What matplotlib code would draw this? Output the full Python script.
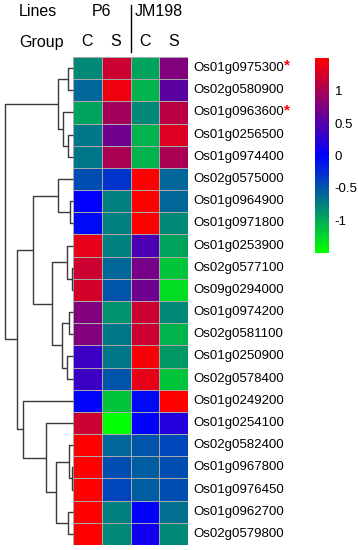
import numpy as np
import matplotlib
matplotlib.use('Agg')
import matplotlib.pyplot as plt
from matplotlib.colors import LinearSegmentedColormap

plt.rcParams['font.family'] = ['Liberation Sans', 'DejaVu Sans']

# ── data ──────────────────────────────────────────────
genes = ['Os01g0975300', 'Os02g0580900', 'Os01g0963600', 'Os01g0256500',
         'Os01g0974400', 'Os02g0575000', 'Os01g0964900', 'Os01g0971800',
         'Os01g0253900', 'Os02g0577100', 'Os09g0294000', 'Os01g0974200',
         'Os02g0581100', 'Os01g0250900', 'Os02g0578400', 'Os01g0249200',
         'Os01g0254100', 'Os02g0582400', 'Os01g0967800', 'Os01g0976450',
         'Os01g0962700', 'Os02g0579800']
starred = ['Os01g0975300', 'Os01g0963600']

lines = ['P6', 'JM198']
groups = ['C', 'S', 'C', 'S']

p6_c  = [-0.80, -0.60, -0.95, -0.70, -0.70, -0.45, 0.00, -0.05, 1.35, 1.20, 1.25,
         0.75, 0.75, 0.35, 0.35, -0.03, 1.20, 1.50, 1.50, 1.50, 1.50, 1.50]
p6_s  = [1.20, 1.40, 0.95, 0.65, 1.00, -0.30, -0.75, -0.75, -0.75, -0.60, -0.50,
         -0.85, -0.70, -0.70, -0.50, -1.15, -1.50, -0.60, -0.45, -0.40, -0.75, -0.80]
jm_c  = [-0.95, -1.05, -0.80, -1.05, -1.05, 1.50, 1.50, 1.50, 0.45, 0.70, 0.65,
         1.20, 1.20, 1.45, 1.35, -0.05, 0.00, -0.50, -0.55, -0.55, 0.00, 0.10]
jm_s  = [0.75, 0.55, 1.10, 1.30, 1.00, -0.60, -0.60, -0.80, -0.95, -1.15, -1.30,
         -0.80, -1.05, -0.90, -1.15, 1.50, 0.20, -0.40, -0.45, -0.45, -0.65, -0.80]

# row clustering: (child a, child b, height); ids >= 22 are earlier merges
merges = [(0, 1, 5), (3, 4, 5), (2, 23, 10), (22, 24, 15),
          (6, 7, 3), (5, 26, 15), (9, 10, 1), (8, 28, 6),
          (11, 12, 4), (13, 14, 6), (30, 31, 11), (29, 32, 21),
          (27, 33, 40), (18, 19, 1), (17, 35, 4), (20, 21, 5),
          (36, 37, 17), (16, 38, 27), (15, 39, 50), (34, 40, 56),
          (25, 41, 68)]

VMIN, VMAX = -1.5, 1.5
cbar_ticks = [1, 0.5, 0, -0.5, -1]

# ── figure ────────────────────────────────────────────
W, H = 358, 550
fig = plt.figure(figsize=(W / 100, H / 100), dpi=100)
fig.patch.set_facecolor('white')

def px_rect(x0, y0, x1, y1):
    return [x0 / W, 1 - y1 / H, (x1 - x0) / W, (y1 - y0) / H]

HX0, HX1, HY0, HY1 = 73, 188, 57, 545
ax = fig.add_axes(px_rect(HX0, HY0, HX1, HY1))
axd = fig.add_axes(px_rect(5, HY0, HX0, HY1))
axc = fig.add_axes(px_rect(315, 58, 329, 253))

cmap = LinearSegmentedColormap.from_list('gbr', ['#00ff00', '#0000ff', '#ff0000'])
mat = np.column_stack([p6_c, p6_s, jm_c, jm_s])
n = len(genes)
mesh = ax.pcolormesh(mat, cmap=cmap, vmin=VMIN, vmax=VMAX,
                     edgecolors='#a8a8a8', linewidth=0.6)
ax.set_xlim(0, 4)
ax.set_ylim(n, 0)
ax.set_xticks([]); ax.set_yticks([])
for s in ax.spines.values():
    s.set_visible(False)

# gene labels + red stars
for i, g in enumerate(genes):
    t = ax.text(4.17, i + 0.5, g, fontsize=9.5, va='center', ha='left',
                clip_on=False)
    if g in starred:
        ax.annotate('*', xy=(1, 1), xycoords=t, xytext=(0.3, 2.5),
                    textcoords='offset points', color='red',
                    fontsize=11, fontweight='bold', ha='left', va='top')

# ── dendrogram ────────────────────────────────────────
pos = {i: (0.0, i + 0.5) for i in range(n)}
for k, (a, b, h) in enumerate(merges):
    xa, ya = pos[a]
    xb, yb = pos[b]
    axd.plot([xa, h, h, xb], [ya, ya, yb, yb], color='#3a3a3a', lw=1.0,
             solid_capstyle='butt', clip_on=False)
    pos[n + k] = (h, (ya + yb) / 2)
axd.set_xlim(68, 0)
axd.set_ylim(n, 0)
axd.axis('off')

# ── colorbar ──────────────────────────────────────────
cb = fig.colorbar(mesh, cax=axc, ticks=cbar_ticks)
cb.outline.set_visible(False)
cb.ax.tick_params(length=0, labelsize=9.5, pad=4)
cb.ax.set_yticklabels([f'{v:g}' for v in cbar_ticks])

# ── header ────────────────────────────────────────────
def fx(x): return x / W
def fy(y): return 1 - y / H

hdr = dict(fontsize=11.5, va='center')
fig.text(fx(19), fy(12), 'Lines', ha='left', **hdr)
fig.text(fx(19), fy(42), 'Group', ha='left', **hdr)
col_w = (HX1 - HX0) / 4
for j, ln in enumerate(lines):
    cx = HX0 + col_w * (2 * j + 1)
    fig.text(fx(cx), fy(12), ln, ha='center', **hdr)
for j, gname in enumerate(groups):
    cx = HX0 + col_w * (j + 0.5)
    fig.text(fx(cx), fy(42), gname, ha='center', **hdr)
fig.add_artist(plt.Line2D([fx(130.5), fx(130.5)], [fy(5), fy(52)],
                          color='black', lw=1.0))

fig.savefig('out.png', dpi=100, facecolor='white')
